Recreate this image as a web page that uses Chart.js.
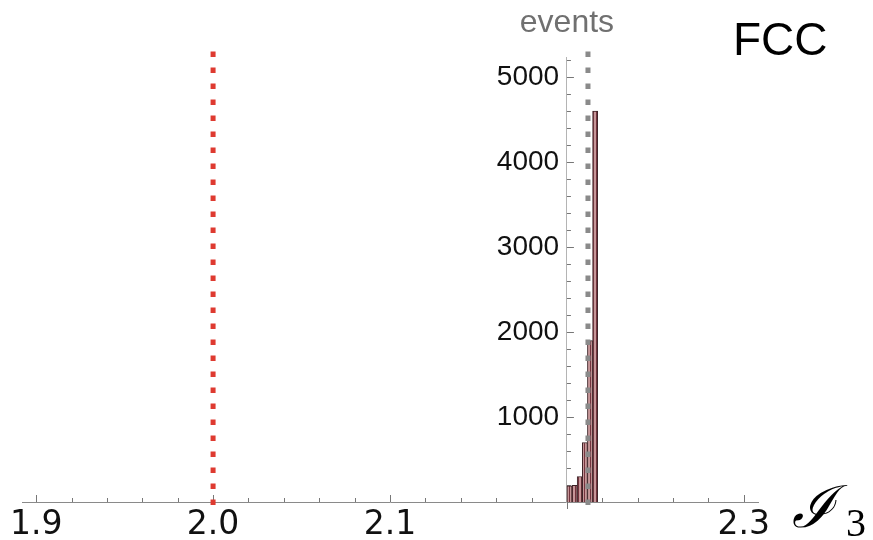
<!DOCTYPE html>
<html>
<head>
<meta charset="utf-8">
<script src="https://cdn.jsdelivr.net/npm/chart.js@4.4.1/dist/chart.umd.min.js"></script>
<style>
  html, body { margin: 0; padding: 0; background: #ffffff; }
  #c { display: block; }
</style>
</head>
<body>
<canvas id="c" width="873" height="540"></canvas>
<script>
// Histogram of I3 (bin centres, bin width 0.0029) and event counts per bin
const binCenters = [2.20145, 2.20435, 2.20725, 2.21015, 2.21305, 2.21595];
const binCounts  = [190, 195, 300, 700, 1900, 4600];

// Tick labels
const xTickValues = [1.9, 2.0, 2.1, 2.3];
const yTickValues = [1000, 2000, 3000, 4000, 5000];

// Vertical reference markers
const referenceValue = 2.0;     // red dotted line
const peakValue = 2.2119;       // grey dotted line
const markerSpan = [5300, -120]; // vertical extent of the marker lines (event axis units)

const ctx = document.getElementById('c').getContext('2d');

// Striped fill for the histogram bars
function stripeFill() {
  const p = document.createElement('canvas');
  p.width = 3; p.height = 1;
  const g = p.getContext('2d');
  g.fillStyle = '#c69698';
  g.fillRect(0, 0, 3, 1);
  g.fillStyle = '#74343e';
  g.fillRect(2, 0, 1, 1);
  return ctx.createPattern(p, 'repeat');
}

// Tick marks, axis label, "events" heading and "FCC" tag
const decor = {
  id: 'decor',
  beforeDatasetsDraw(chart) {
    const { ctx: c, scales: { x, y } } = chart;
    const axisY = y.getPixelForValue(0);
    const axisX = x.getPixelForValue(2.2);
    c.save();
    c.strokeStyle = '#777777';
    c.lineWidth = 1;
    c.beginPath();
    // ticks on the I3 axis, pointing up
    for (let k = 0; k <= 20; k++) {
      const v = 1.9 + k * 0.02;
      const px = Math.round(x.getPixelForValue(v)) + 0.5;
      const len = (k % 5 === 0) ? 7 : 4;
      c.moveTo(px, axisY);
      c.lineTo(px, axisY - len);
    }
    // ticks on the events axis, pointing right
    for (let k = 1; k <= 26; k++) {
      const v = k * 200;
      const py = Math.round(y.getPixelForValue(v)) + 0.5;
      const len = (k % 5 === 0) ? 7 : 4;
      c.moveTo(axisX, py);
      c.lineTo(axisX + len, py);
    }
    // events axis continues a little below the I3 axis
    c.moveTo(Math.round(axisX) + 0.5, axisY);
    c.lineTo(Math.round(axisX) + 0.5, axisY + 7);
    c.stroke();
    c.restore();
  },
  afterDraw(chart) {
    const { ctx: c, scales: { x } } = chart;
    const axisX = x.getPixelForValue(2.2);
    c.save();
    c.fillStyle = '#707070';
    c.font = '32px "Liberation Sans", Arial, sans-serif';
    c.textAlign = 'center';
    c.textBaseline = 'alphabetic';
    c.fillText('events', axisX, 32);

    c.fillStyle = '#000000';
    c.font = '46px "Liberation Sans", Arial, sans-serif';
    c.textAlign = 'left';
    c.fillText('FCC', 733, 55);

    c.font = 'italic 58px "DejaVu Serif", "Liberation Serif", serif';
    c.fillText('\u2110', 792, 527);
    c.font = '40px "Liberation Serif", serif';
    c.fillText('3', 846, 536);
    c.restore();
  }
};

new Chart(ctx, {
  type: 'bar',
  data: {
    datasets: [
      {
        type: 'line',
        order: 1,
        data: markerSpan.map(v => ({ x: referenceValue, y: v })),
        borderColor: '#de3a30',
        borderWidth: 5,
        borderDash: [5.5, 10.5],
        borderCapStyle: 'butt',
        pointRadius: 0,
        clip: false
      },
      {
        type: 'line',
        order: 1,
        data: markerSpan.map(v => ({ x: peakValue, y: v })),
        borderColor: '#8a8a8a',
        borderWidth: 5,
        borderDash: [5.5, 10.5],
        borderCapStyle: 'butt',
        pointRadius: 0,
        clip: false
      },
      {
        type: 'bar',
        order: 2,
        data: binCenters.map((c, i) => ({ x: c, y: binCounts[i] })),
        backgroundColor: stripeFill(),
        borderColor: '#3c2226',
        borderWidth: 1,
        barPercentage: 1,
        categoryPercentage: 1,
        grouped: false
      }
    ]
  },
  options: {
    responsive: false,
    animation: false,
    events: [],
    layout: { autoPadding: false, padding: { left: 22, right: 115, top: 57, bottom: -8 } },
    plugins: {
      legend: { display: false },
      tooltip: { enabled: false }
    },
    scales: {
      x: {
        type: 'linear',
        offset: false,
        min: 1.892,
        max: 2.308,
        grid: { display: true, offset: false, drawOnChartArea: false, drawTicks: false },
        border: { display: true, color: '#8a8a8a', width: 1 },
        afterBuildTicks: s => { s.ticks = xTickValues.map(v => ({ value: v })); },
        ticks: {
          autoSkip: false,
          maxRotation: 0,
          padding: 8,
          color: '#111111',
          font: { family: '"DejaVu Sans", sans-serif', size: 33, lineHeight: '30px' },
          callback: v => Number(v).toFixed(1)
        }
      },
      y: {
        type: 'linear',
        min: 0,
        max: 5235,
        position: { x: 2.2 },
        grid: { display: true, drawOnChartArea: false, drawTicks: false },
        border: { display: true, color: '#b4b4b4', width: 1 },
        afterBuildTicks: s => { s.ticks = yTickValues.map(v => ({ value: v })); },
        ticks: {
          autoSkip: false,
          padding: 0,
          color: '#111111',
          font: { family: '"Liberation Sans", Arial, sans-serif', size: 28 },
          // trailing space keeps the labels clear of the axis line
          callback: v => String(v) + ' '
        }
      }
    }
  },
  plugins: [decor]
});
</script>
</body>
</html>
